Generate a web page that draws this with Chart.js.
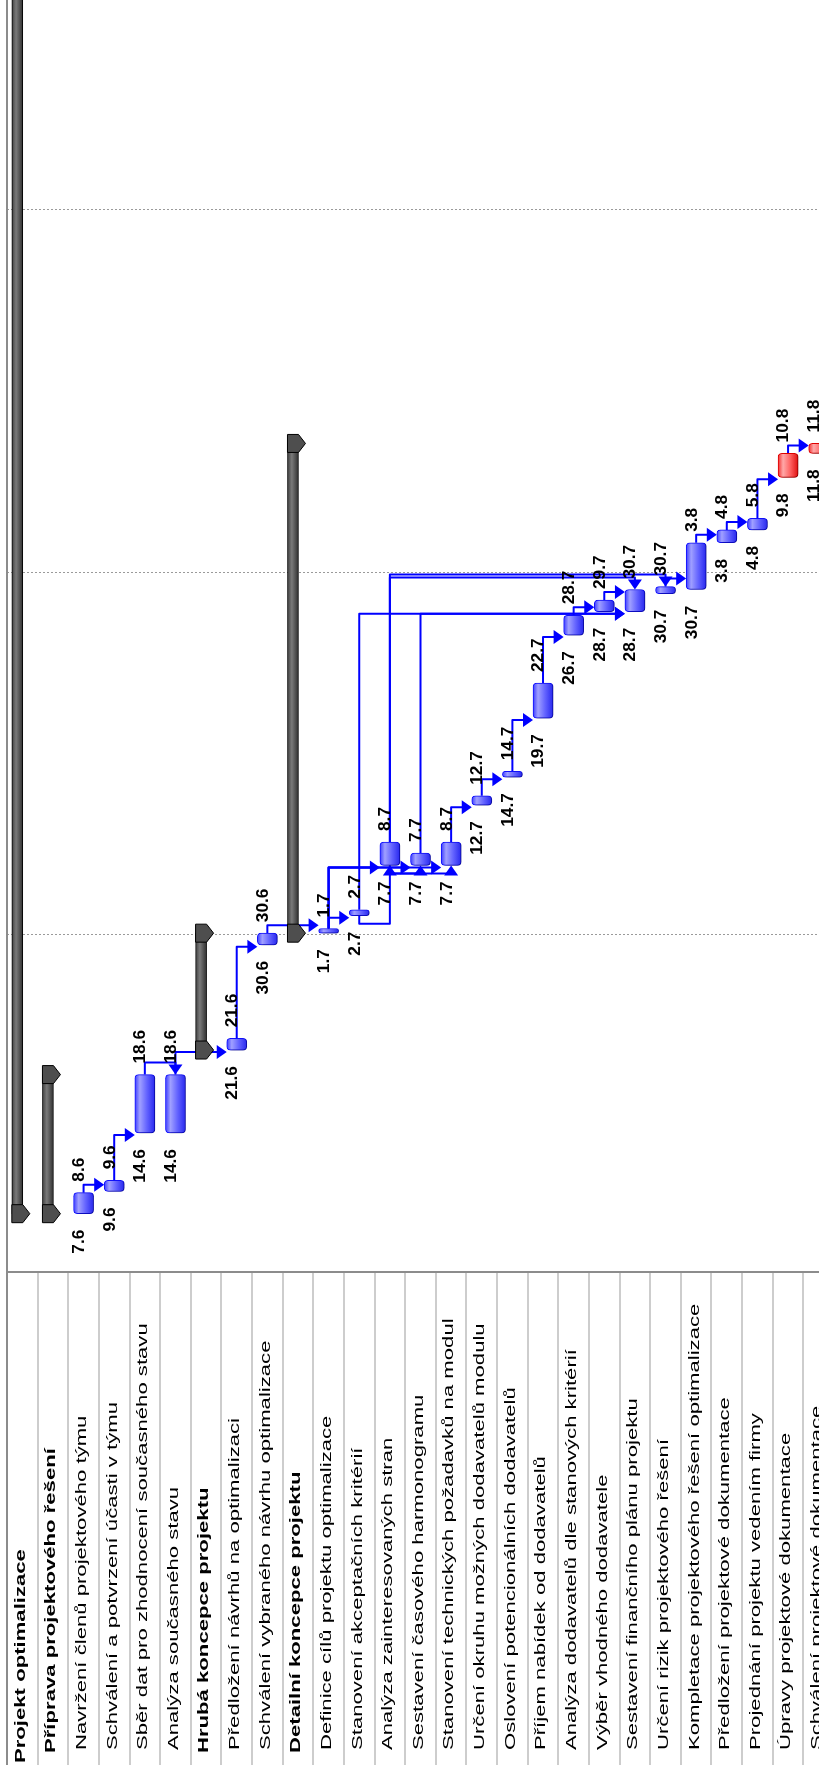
<!DOCTYPE html>
<html>
<head>
<meta charset="utf-8">
<title>Projekt optimalizace</title>
<script src="https://cdn.jsdelivr.net/npm/chart.js@4.4.1/dist/chart.umd.min.js"></script>
<style>
    html, body { margin: 0; padding: 0; background: #fff; overflow: hidden; }
    #wrap { width: 834px; height: 1765px; }
</style>
</head>
<body>
<div id="wrap"><canvas id="gantt" width="834" height="1765"></canvas></div>
<script>
// Task table (rows run left to right, the chart is turned on its side)
const taskNames = [
    'Projekt optimalizace',
    'Příprava projektového řešení',
    'Navržení členů projektového týmu',
    'Schválení a potvrzení účasti v týmu',
    'Sběr dat pro zhodnocení současného stavu',
    'Analýza současného stavu',
    'Hrubá koncepce projektu',
    'Předložení návrhů na optimalizaci',
    'Schválení vybraného návrhu optimalizace',
    'Detailní koncepce projektu',
    'Definice cílů projektu optimalizace',
    'Stanovení akceptačních kritérií',
    'Analýza zainteresovaných stran',
    'Sestavení časového harmonogramu',
    'Stanovení technických požadavků na modul',
    'Určení okruhu možných dodavatelů modulu',
    'Oslovení potencionálních dodavatelů',
    'Příjem nabídek od dodavatelů',
    'Analýza dodavatelů dle stanových kritérií',
    'Výběr vhodného dodavatele',
    'Sestavení finančního plánu projektu',
    'Určení rizik projektového řešení',
    'Kompletace projektového řešení optimalizace',
    'Předložení projektové dokumentace',
    'Projednání projektu vedením firmy',
    'Úpravy projektové dokumentace',
    'Schválení projektové dokumentace'
];
// 0 = project, 1 = phase (summary bar), 2 = task
const taskLevels = [0, 1, 2, 2, 2, 2, 1, 2, 2, 1, 2, 2, 2, 2, 2, 2, 2, 2, 2, 2, 2, 2, 2, 2, 2, 2, 2];

// bar start / end in days counted from 1.6.
const barStart = [6.1, 6.1, 6.1, 8.0, 13.0, 13.0, 20.1, 20.1, 29.1, 30.1, 30.1, 31.6, 35.9, 35.9, 35.9,
    41.05, 43.45, 48.5, 55.6, 57.6, 57.6, 59.15, 59.5, 63.5, 64.6, 69.1, 71.15];
const barEnd = [130, 18.0, 7.9, 8.95, 18.0, 18.0, 30.1, 21.1, 30.1, 72.0, 30.5, 32.1, 37.9, 36.95, 37.9,
    41.85, 43.95, 51.5, 57.3, 58.6, 59.5, 59.75, 63.5, 64.6, 65.6, 71.15, 72.0];

// date labels written under / above each task bar
const startLabels = ['', '', '7.6', '9.6', '14.6', '14.6', '', '21.6', '30.6', '', '1.7', '2.7', '7.7', '7.7', '7.7',
    '12.7', '14.7', '19.7', '26.7', '28.7', '28.7', '30.7', '30.7', '3.8', '4.8', '9.8', '11.8'];
const endLabels = ['', '', '8.6', '9.6', '18.6', '18.6', '', '21.6', '30.6', '', '1.7', '2.7', '8.7', '7.7', '8.7',
    '12.7', '14.7', '22.7', '28.7', '29.7', '30.7', '30.7', '3.8', '4.8', '5.8', '10.8', '11.8'];

// critical tasks are drawn red
const critical = [25, 26];

// dependencies: [predecessor row, successor row, type]
const links = [
    [2, 3, 'FS'], [3, 4, 'FS'], [4, 5, 'FF'], [5, 7, 'FS'], [7, 8, 'FS'], [8, 10, 'FS'],
    [10, 11, 'FS'], [10, 12, 'FS'], [10, 13, 'FS'], [10, 14, 'FS'],
    [11, 12, 'SS'], [12, 13, 'SS'], [12, 14, 'SS'],
    [11, 20, 'FS'], [13, 20, 'FS'], [12, 20, 'FF'], [12, 21, 'FF'],
    [14, 15, 'FS'], [15, 16, 'FS'], [16, 17, 'FS'], [17, 18, 'FS'], [18, 19, 'FS'], [19, 20, 'FS'],
    [21, 22, 'FS'], [22, 23, 'FS'], [23, 24, 'FS'], [24, 25, 'FS'], [25, 26, 'FS']
];

// month boundaries (1.7., 1.8., 1.9.) in days from 1.6.
const monthStarts = [30, 61, 92];

// visible time window (days from 1.6.)
const dayMin = 1.11;
const dayMax = 109.94;

const SUMMARY_SHIFT = 5;
const TASK_W = 20;
const FONT = '"Liberation Sans", Arial, sans-serif';
const LINK_COLOR = '#0000ff';

function taskGradient(context) {
    const chart = context.chart;
    const i = context.dataIndex;
    const red = critical.includes(i);
    if (!chart.chartArea || i === undefined) return red ? '#ff5050' : '#5a5aff';
    const cx = chart.scales.x.getPixelForValue(i);
    const g = chart.ctx.createLinearGradient(cx - TASK_W / 2, 0, cx + TASK_W / 2, 0);
    if (red) {
        g.addColorStop(0, '#f03030');
        g.addColorStop(0.25, '#ffa8a8');
        g.addColorStop(0.6, '#ff6464');
        g.addColorStop(1, '#e01010');
    } else {
        g.addColorStop(0, '#3c3cff');
        g.addColorStop(0.25, '#a0a0ff');
        g.addColorStop(0.6, '#6464ff');
        g.addColorStop(1, '#2828ee');
    }
    return g;
}

function summaryGradient(context) {
    const chart = context.chart;
    const i = context.dataIndex;
    if (!chart.chartArea || i === undefined) return '#555';
    const cx = chart.scales.x.getPixelForValue(i) - SUMMARY_SHIFT;
    const g = chart.ctx.createLinearGradient(cx - 6, 0, cx + 6, 0);
    g.addColorStop(0, '#3a3a3a');
    g.addColorStop(0.4, '#7a7a7a');
    g.addColorStop(1, '#2a2a2a');
    return g;
}

function arrow(ctx, x, y, dir) {
    ctx.beginPath();
    if (dir === 'right') {
        ctx.moveTo(x, y); ctx.lineTo(x - 10, y - 7); ctx.lineTo(x - 10, y + 7);
    } else if (dir === 'down') {
        ctx.moveTo(x, y); ctx.lineTo(x - 7, y - 10); ctx.lineTo(x + 7, y - 10);
    } else {
        ctx.moveTo(x, y); ctx.lineTo(x - 7, y + 10); ctx.lineTo(x + 7, y + 10);
    }
    ctx.closePath();
    ctx.fill();
}

const ganttExtras = {
    id: 'ganttExtras',
    afterDatasetsUpdate(chart) {
        // summary bars sit a bit left in their row
        chart.getDatasetMeta(0).data.forEach(el => { el.x -= SUMMARY_SHIFT; });
    },
    beforeDatasetsDraw(chart) {
        const ctx = chart.ctx;
        const xs = chart.scales.x, ys = chart.scales.y;
        ctx.save();
        ctx.strokeStyle = LINK_COLOR;
        ctx.fillStyle = LINK_COLOR;
        ctx.lineWidth = 2;
        ctx.lineJoin = 'round';
        links.forEach(([a, b, type]) => {
            const x1 = xs.getPixelForValue(a);
            const xc = xs.getPixelForValue(b);
            ctx.beginPath();
            if (type === 'FS') {
                const y1 = ys.getPixelForValue(barEnd[a]);
                const yA = Math.min(y1 - 8, ys.getPixelForValue(barStart[b]) + 2);
                const x2 = xc - TASK_W / 2;
                ctx.moveTo(x1, y1); ctx.lineTo(x1, yA); ctx.lineTo(x2 - 9, yA);
                ctx.stroke();
                arrow(ctx, x2, yA, 'right');
            } else if (type === 'FF') {
                const y1 = ys.getPixelForValue(barEnd[a]);
                const y2 = ys.getPixelForValue(barEnd[b]);
                const yA = Math.min(y1, y2) - 12;
                ctx.moveTo(x1, y1); ctx.lineTo(x1, yA); ctx.lineTo(xc, yA); ctx.lineTo(xc, y2 - 9);
                ctx.stroke();
                arrow(ctx, xc, y2, 'down');
            } else {
                const y1 = ys.getPixelForValue(barStart[a]);
                const y2 = ys.getPixelForValue(barStart[b]);
                const yB = Math.max(y1, y2) + 8;
                ctx.moveTo(x1, y1); ctx.lineTo(x1, yB); ctx.lineTo(xc, yB); ctx.lineTo(xc, y2 + 9);
                ctx.stroke();
                arrow(ctx, xc, y2, 'up');
            }
        });
        ctx.restore();
    },
    beforeDatasetDraw(chart, args) {
        if (args.index === 1) {
            const ctx = chart.ctx;
            ctx.save();
            ctx.shadowColor = 'rgba(0,0,0,0.35)';
            ctx.shadowOffsetX = 3;
            ctx.shadowOffsetY = 1;
            ctx.shadowBlur = 2;
        }
    },
    afterDatasetDraw(chart, args) {
        const ctx = chart.ctx;
        if (args.index === 1) {
            ctx.restore();
            return;
        }
        // end caps of the summary bars
        const area = chart.chartArea;
        ctx.save();
        ctx.fillStyle = '#4e4e4e';
        ctx.strokeStyle = '#000';
        ctx.lineWidth = 1;
        args.meta.data.forEach((el, i) => {
            if (taskLevels[i] > 1) return;
            const L = el.x - el.width / 2, R = el.x + el.width / 2;
            [Math.min(el.y, el.base), Math.max(el.y, el.base)].forEach(yE => {
                if (yE < area.top || yE > area.bottom) return;
                ctx.beginPath();
                ctx.moveTo(L, yE - 9);
                ctx.lineTo(R, yE - 9);
                ctx.lineTo(R + 7, yE);
                ctx.lineTo(R, yE + 9);
                ctx.lineTo(L, yE + 9);
                ctx.closePath();
                ctx.fill();
                ctx.stroke();
            });
        });
        ctx.restore();
    },
    afterDatasetsDraw(chart) {
        // date labels
        const ctx = chart.ctx;
        const xs = chart.scales.x, ys = chart.scales.y;
        ctx.save();
        ctx.fillStyle = '#000';
        ctx.font = 'bold 16px ' + FONT;
        ctx.textBaseline = 'middle';
        taskNames.forEach((n, i) => {
            if (taskLevels[i] < 2) return;
            const x = xs.getPixelForValue(i) - 4;
            const yS = ys.getPixelForValue(barStart[i]);
            const yE = ys.getPixelForValue(barEnd[i]);
            ctx.save();
            ctx.translate(x, yS + 16);
            ctx.rotate(-Math.PI / 2);
            ctx.scale(1.08, 1);
            ctx.textAlign = 'right';
            ctx.fillText(startLabels[i], 0, 0);
            ctx.restore();
            ctx.save();
            ctx.translate(x, yE - 11);
            ctx.rotate(-Math.PI / 2);
            ctx.scale(1.08, 1);
            ctx.textAlign = 'left';
            ctx.fillText(endLabels[i], 0, 0);
            ctx.restore();
        });
        ctx.restore();
    },
    afterDraw(chart) {
        // the task table under the chart
        const ctx = chart.ctx;
        const area = chart.chartArea;
        const xs = chart.scales.x;
        const H = chart.height;
        const rowW = (area.right - area.left) / taskNames.length;
        ctx.save();
        ctx.strokeStyle = '#cdcdcd';
        ctx.lineWidth = 2;
        for (let i = 1; i <= taskNames.length; i++) {
            const x = Math.round(area.left + rowW * i);
            ctx.beginPath();
            ctx.moveTo(x, area.bottom);
            ctx.lineTo(x, H);
            ctx.stroke();
        }
        ctx.strokeStyle = '#8c8c8c';
        ctx.beginPath();
        ctx.moveTo(area.left, 0);
        ctx.lineTo(area.left, H);
        ctx.moveTo(area.left, area.bottom);
        ctx.lineTo(chart.width, area.bottom);
        ctx.stroke();

        const indent = [2, 12, 15];
        ctx.fillStyle = '#000';
        ctx.textBaseline = 'middle';
        ctx.textAlign = 'left';
        taskNames.forEach((name, i) => {
            const lvl = taskLevels[i];
            ctx.font = (lvl < 2 ? 'bold ' : '') + '14px ' + FONT;
            ctx.save();
            ctx.translate(xs.getPixelForValue(i) - 1.5, H - indent[lvl]);
            ctx.rotate(-Math.PI / 2);
            ctx.scale(1.58, 1);
            ctx.fillText(name, 0, 0);
            ctx.restore();
        });
        ctx.restore();
    }
};

new Chart(document.getElementById('gantt'), {
    type: 'bar',
    data: {
        labels: taskNames,
        datasets: [{
            label: 'Souhrn',
            data: taskNames.map((n, i) => taskLevels[i] < 2 ? [barStart[i], barEnd[i]] : null),
            backgroundColor: summaryGradient,
            borderColor: '#000',
            borderWidth: 1,
            borderSkipped: false,
            barThickness: 11,
            grouped: false
        }, {
            label: 'Úkoly',
            data: taskNames.map((n, i) => taskLevels[i] === 2 ? [barStart[i], barEnd[i]] : null),
            backgroundColor: taskGradient,
            borderColor: ctx => critical.includes(ctx.dataIndex) ? '#e00000' : '#1010ff',
            borderWidth: 1,
            borderSkipped: false,
            borderRadius: 4,
            barThickness: TASK_W,
            grouped: false
        }]
    },
    options: {
        responsive: false,
        animation: false,
        layout: { padding: { left: 7, right: 0, top: 0, bottom: 493 } },
        plugins: {
            legend: { display: false },
            tooltip: { enabled: false }
        },
        scales: {
            x: { display: false },
            y: {
                min: dayMin,
                max: dayMax,
                ticks: { display: false },
                grid: { color: '#9a9a9a', lineWidth: 1, drawTicks: false },
                border: { display: false, dash: [2, 2] },
                afterBuildTicks: scale => { scale.ticks = monthStarts.map(v => ({ value: v })); },
                afterFit: scale => { scale.width = 0; }
            }
        }
    },
    plugins: [ganttExtras]
});
</script>
</body>
</html>
